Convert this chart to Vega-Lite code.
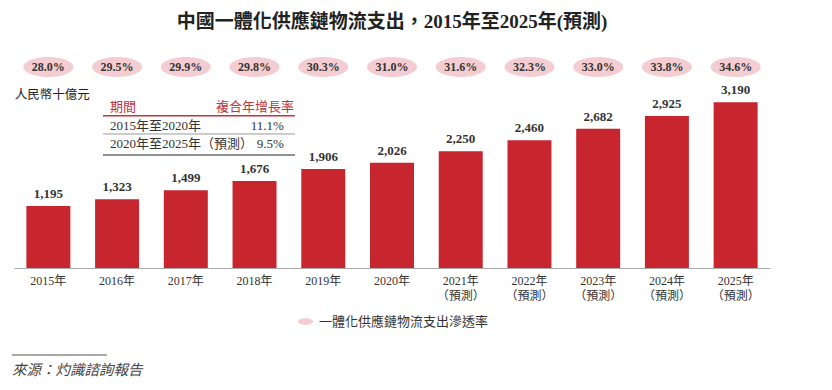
{
  "$schema": "https://vega.github.io/schema/vega-lite/v6.json",
  "width": 756,
  "height": 187,
  "autosize": {"type": "none"},
  "padding": {"left": 14, "top": 81, "right": 62, "bottom": 122},
  "background": "white",
  "title": {
    "text": "中國一體化供應鏈物流支出，2015年至2025年(預測)",
    "frame": "group",
    "anchor": "middle",
    "orient": "top",
    "offset": 6,
    "baseline": "bottom",
    "font": "Liberation Serif, Noto Sans CJK TC",
    "fontSize": 19,
    "fontWeight": "bold",
    "color": "#222222"
  },
  "datasets": {
    "bars": [
      {"year": "2015年", "value": 1195, "rate": "28.0%"},
      {"year": "2016年", "value": 1323, "rate": "29.5%"},
      {"year": "2017年", "value": 1499, "rate": "29.9%"},
      {"year": "2018年", "value": 1676, "rate": "29.8%"},
      {"year": "2019年", "value": 1906, "rate": "30.3%"},
      {"year": "2020年", "value": 2026, "rate": "31.0%"},
      {"year": "2021年\n（預測）", "value": 2250, "rate": "31.6%"},
      {"year": "2022年\n（預測）", "value": 2460, "rate": "32.3%"},
      {"year": "2023年\n（預測）", "value": 2682, "rate": "33.0%"},
      {"year": "2024年\n（預測）", "value": 2925, "rate": "33.8%"},
      {"year": "2025年\n（預測）", "value": 3190, "rate": "34.6%"}
    ],
    "note": [{}]
  },
  "layer": [
    {
      "data": {"name": "bars"},
      "encoding": {
        "x": {
          "field": "year",
          "type": "nominal",
          "sort": null,
          "scale": {"paddingInner": 0.36, "paddingOuter": 0.18},
          "axis": {
            "title": null,
            "orient": "bottom",
            "domainColor": "#aaaaaa",
            "domainWidth": 1,
            "ticks": false,
            "grid": false,
            "labelAngle": 0,
            "labelPadding": 7,
            "labelFont": "Liberation Serif, Noto Sans CJK TC",
            "labelFontSize": 12,
            "labelColor": "#333333",
            "labelLineHeight": 15,
            "labelBaseline": "top",
            "labelExpr": "split(datum.label, '\\n')"
          }
        }
      },
      "layer": [
        {
          "mark": {"type": "bar", "color": "#c8262f"},
          "encoding": {
            "y": {"field": "value", "type": "quantitative", "scale": {"domain": [0, 3600]}, "axis": null}
          }
        },
        {
          "mark": {"type": "text", "baseline": "bottom", "dy": -5, "font": "Liberation Serif", "fontWeight": "bold", "fontSize": 13, "color": "#333333"},
          "encoding": {
            "y": {"field": "value", "type": "quantitative", "scale": {"domain": [0, 3600]}, "axis": null},
            "text": {"field": "value", "type": "quantitative", "format": ",d"}
          }
        },
        {
          "mark": {"type": "point", "shape": "M -1 0 A 1 0.4 0 1 0 1 0 A 1 0.4 0 1 0 -1 0 Z", "size": 2500, "filled": true, "opacity": 1, "strokeWidth": 0},
          "encoding": {
            "y": {"datum": 3870, "type": "quantitative", "scale": {"domain": [0, 3600]}, "axis": null},
            "color": {
              "datum": "一體化供應鏈物流支出滲透率",
              "type": "nominal",
              "scale": {"range": ["#f3cdd1"]},
              "legend": {
                "orient": "none",
                "legendX": 284,
                "legendY": 233,
                "title": null,
                "padding": 0,
                "symbolType": "M -1 0 A 1 0.45 0 1 0 1 0 A 1 0.45 0 1 0 -1 0 Z",
                "symbolSize": 225,
                "symbolStrokeWidth": 0,
                "labelOffset": 6,
                "labelLimit": 400,
                "labelFont": "Noto Sans CJK TC",
                "labelFontSize": 13,
                "labelColor": "#333333"
              }
            }
          }
        },
        {
          "mark": {"type": "text", "baseline": "middle", "font": "Liberation Serif", "fontWeight": "bold", "fontSize": 12, "color": "#333333"},
          "encoding": {
            "y": {"datum": 3870, "type": "quantitative", "scale": {"domain": [0, 3600]}, "axis": null},
            "text": {"field": "rate", "type": "nominal"}
          }
        }
      ]
    },
    {
      "data": {"name": "note"},
      "encoding": {
        "x": {"datum": 0, "type": "quantitative", "scale": {"domain": [0, 11]}, "axis": null}
      },
      "layer": [
        {
          "mark": {"type": "text", "text": "人民幣十億元", "align": "left", "baseline": "middle", "font": "Noto Sans CJK TC", "fontSize": 12.5, "color": "#222222"},
          "encoding": {
            "x": {"datum": 0.01, "type": "quantitative", "scale": {"domain": [0, 11]}, "axis": null},
            "y": {"datum": 3330, "type": "quantitative", "scale": {"domain": [0, 3600]}, "axis": null}
          }
        },
        {
          "mark": {"type": "text", "text": "期間", "align": "left", "baseline": "middle", "font": "Noto Sans CJK TC", "fontSize": 13, "color": "#c0343c"},
          "encoding": {
            "x": {"datum": 1.397, "type": "quantitative", "scale": {"domain": [0, 11]}, "axis": null},
            "y": {"datum": 3100, "type": "quantitative", "scale": {"domain": [0, 3600]}, "axis": null}
          }
        },
        {
          "mark": {"type": "text", "text": "複合年增長率", "align": "right", "baseline": "middle", "font": "Noto Sans CJK TC", "fontSize": 13, "color": "#c0343c"},
          "encoding": {
            "x": {"datum": 4.074, "type": "quantitative", "scale": {"domain": [0, 11]}, "axis": null},
            "y": {"datum": 3100, "type": "quantitative", "scale": {"domain": [0, 3600]}, "axis": null}
          }
        },
        {
          "mark": {"type": "rule", "color": "#c0343c", "strokeWidth": 1.5},
          "encoding": {
            "x": {"datum": 1.295, "type": "quantitative", "scale": {"domain": [0, 11]}, "axis": null},
            "x2": {"datum": 4.088},
            "y": {"datum": 2932, "type": "quantitative", "scale": {"domain": [0, 3600]}, "axis": null}
          }
        },
        {
          "mark": {"type": "text", "text": "2015年至2020年", "align": "left", "baseline": "middle", "font": "Liberation Serif, Noto Sans CJK TC", "fontSize": 13, "color": "#333333"},
          "encoding": {
            "x": {"datum": 1.397, "type": "quantitative", "scale": {"domain": [0, 11]}, "axis": null},
            "y": {"datum": 2734, "type": "quantitative", "scale": {"domain": [0, 3600]}, "axis": null}
          }
        },
        {
          "mark": {"type": "text", "text": "11.1%", "align": "right", "baseline": "middle", "font": "Liberation Serif", "fontSize": 13, "color": "#333333"},
          "encoding": {
            "x": {"datum": 3.928, "type": "quantitative", "scale": {"domain": [0, 11]}, "axis": null},
            "y": {"datum": 2734, "type": "quantitative", "scale": {"domain": [0, 3600]}, "axis": null}
          }
        },
        {
          "mark": {"type": "rule", "color": "#999999", "strokeWidth": 1},
          "encoding": {
            "x": {"datum": 1.295, "type": "quantitative", "scale": {"domain": [0, 11]}, "axis": null},
            "x2": {"datum": 4.088},
            "y": {"datum": 2580, "type": "quantitative", "scale": {"domain": [0, 3600]}, "axis": null}
          }
        },
        {
          "mark": {"type": "text", "text": "2020年至2025年（預測）", "align": "left", "baseline": "middle", "font": "Liberation Serif, Noto Sans CJK TC", "fontSize": 13, "color": "#333333"},
          "encoding": {
            "x": {"datum": 1.397, "type": "quantitative", "scale": {"domain": [0, 11]}, "axis": null},
            "y": {"datum": 2387, "type": "quantitative", "scale": {"domain": [0, 3600]}, "axis": null}
          }
        },
        {
          "mark": {"type": "text", "text": "9.5%", "align": "right", "baseline": "middle", "font": "Liberation Serif", "fontSize": 13, "color": "#333333"},
          "encoding": {
            "x": {"datum": 3.928, "type": "quantitative", "scale": {"domain": [0, 11]}, "axis": null},
            "y": {"datum": 2387, "type": "quantitative", "scale": {"domain": [0, 3600]}, "axis": null}
          }
        },
        {
          "mark": {"type": "rule", "color": "#222222", "strokeWidth": 1.2},
          "encoding": {
            "x": {"datum": 1.295, "type": "quantitative", "scale": {"domain": [0, 11]}, "axis": null},
            "x2": {"datum": 4.088},
            "y": {"datum": 2175, "type": "quantitative", "scale": {"domain": [0, 3600]}, "axis": null}
          }
        },
        {
          "mark": {"type": "rule", "color": "#555555", "strokeWidth": 1},
          "encoding": {
            "x": {"datum": -0.03, "type": "quantitative", "scale": {"domain": [0, 11]}, "axis": null},
            "x2": {"datum": 1.353},
            "y": {"datum": -1675, "type": "quantitative", "scale": {"domain": [0, 3600]}, "axis": null}
          }
        },
        {
          "mark": {"type": "text", "text": "來源：灼識諮詢報告", "align": "left", "baseline": "middle", "font": "Noto Sans CJK TC", "fontSize": 14.5, "fontStyle": "italic", "color": "#444444"},
          "encoding": {
            "x": {"datum": -0.03, "type": "quantitative", "scale": {"domain": [0, 11]}, "axis": null},
            "y": {"datum": -1983, "type": "quantitative", "scale": {"domain": [0, 3600]}, "axis": null}
          }
        }
      ]
    }
  ],
  "resolve": {"scale": {"x": "independent"}},
  "config": {
    "view": {"stroke": null}
  }
}
